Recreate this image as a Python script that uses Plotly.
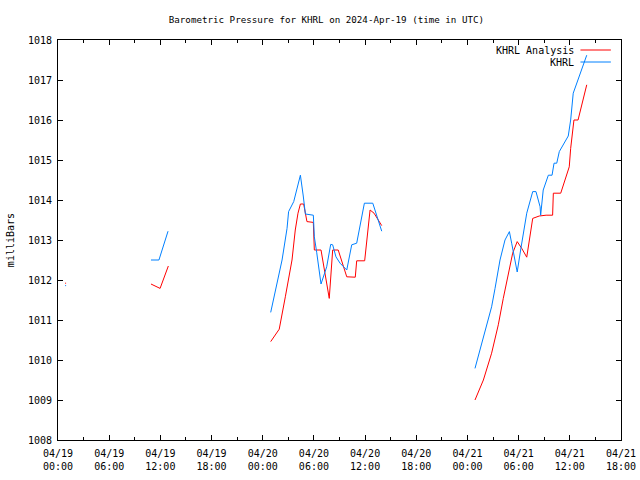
import plotly.graph_objects as go

# ---- data ----
series_names = ["KHRL Analysis", "KHRL"]
series_colors = ["#ff0000", "#0080ff"]

analysis_segments = [
    [("2024-04-19 00:50", 1011.92), ("2024-04-19 00:57", 1011.92)],
    [("2024-04-19 10:54", 1011.90), ("2024-04-19 11:22", 1011.85), ("2024-04-19 11:58", 1011.79),
     ("2024-04-19 12:56", 1012.35)],
    [("2024-04-20 00:56", 1010.46), ("2024-04-20 01:56", 1010.77), ("2024-04-20 02:39", 1011.58),
     ("2024-04-20 03:26", 1012.50), ("2024-04-20 03:49", 1013.25), ("2024-04-20 04:08", 1013.67),
     ("2024-04-20 04:25", 1013.90), ("2024-04-20 04:48", 1013.90), ("2024-04-20 05:11", 1013.46),
     ("2024-04-20 05:56", 1013.44), ("2024-04-20 06:03", 1012.75), ("2024-04-20 06:50", 1012.75),
     ("2024-04-20 07:48", 1011.54), ("2024-04-20 08:12", 1012.75), ("2024-04-20 08:51", 1012.75),
     ("2024-04-20 09:51", 1012.08), ("2024-04-20 10:51", 1012.07), ("2024-04-20 11:01", 1012.48),
     ("2024-04-20 11:57", 1012.48), ("2024-04-20 12:35", 1013.75), ("2024-04-20 13:03", 1013.67),
     ("2024-04-20 13:57", 1013.36)],
    [("2024-04-21 00:53", 1009.00), ("2024-04-21 01:52", 1009.50), ("2024-04-21 02:50", 1010.17),
     ("2024-04-21 03:37", 1010.88), ("2024-04-21 04:12", 1011.54), ("2024-04-21 04:47", 1012.17),
     ("2024-04-21 05:18", 1012.67), ("2024-04-21 05:50", 1012.96), ("2024-04-21 06:05", 1012.88),
     ("2024-04-21 06:22", 1012.79), ("2024-04-21 06:57", 1012.57), ("2024-04-21 07:39", 1013.54),
     ("2024-04-21 08:25", 1013.60), ("2024-04-21 09:13", 1013.62), ("2024-04-21 09:59", 1013.62),
     ("2024-04-21 10:04", 1014.17), ("2024-04-21 10:56", 1014.17), ("2024-04-21 11:56", 1014.83),
     ("2024-04-21 12:06", 1015.29), ("2024-04-21 12:29", 1016.00), ("2024-04-21 12:58", 1016.00),
     ("2024-04-21 13:59", 1016.88)],
]

khrl_segments = [
    [("2024-04-19 00:50", 1011.86), ("2024-04-19 00:57", 1011.86)],
    [("2024-04-19 10:54", 1012.50), ("2024-04-19 11:50", 1012.50), ("2024-04-19 12:54", 1013.22)],
    [("2024-04-20 00:56", 1011.19), ("2024-04-20 01:47", 1012.00), ("2024-04-20 02:16", 1012.50),
     ("2024-04-20 02:51", 1013.29), ("2024-04-20 03:02", 1013.71), ("2024-04-20 03:38", 1013.96),
     ("2024-04-20 04:25", 1014.62), ("2024-04-20 04:45", 1014.10), ("2024-04-20 05:00", 1013.65),
     ("2024-04-20 05:56", 1013.62), ("2024-04-20 06:03", 1013.08), ("2024-04-20 06:20", 1012.68),
     ("2024-04-20 06:50", 1011.90), ("2024-04-20 07:30", 1012.33), ("2024-04-20 07:58", 1012.89),
     ("2024-04-20 08:12", 1012.88), ("2024-04-20 08:35", 1012.58), ("2024-04-20 09:04", 1012.42),
     ("2024-04-20 09:51", 1012.25), ("2024-04-20 10:26", 1012.88), ("2024-04-20 11:01", 1012.92),
     ("2024-04-20 11:55", 1013.92), ("2024-04-20 12:54", 1013.92), ("2024-04-20 13:57", 1013.22)],
    [("2024-04-21 00:53", 1009.79), ("2024-04-21 01:52", 1010.58), ("2024-04-21 02:50", 1011.33),
     ("2024-04-21 03:14", 1011.79), ("2024-04-21 03:49", 1012.50), ("2024-04-21 04:24", 1013.00),
     ("2024-04-21 04:55", 1013.21), ("2024-04-21 05:11", 1012.92), ("2024-04-21 05:34", 1012.50),
     ("2024-04-21 05:50", 1012.20), ("2024-04-21 06:14", 1012.75), ("2024-04-21 06:57", 1013.67),
     ("2024-04-21 07:39", 1014.21), ("2024-04-21 08:02", 1014.21), ("2024-04-21 08:31", 1013.83),
     ("2024-04-21 08:35", 1013.62), ("2024-04-21 08:53", 1014.25), ("2024-04-21 09:29", 1014.62),
     ("2024-04-21 09:55", 1014.62), ("2024-04-21 10:09", 1014.92), ("2024-04-21 10:28", 1014.92),
     ("2024-04-21 10:46", 1015.21), ("2024-04-21 11:49", 1015.60), ("2024-04-21 12:06", 1016.00),
     ("2024-04-21 12:24", 1016.67), ("2024-04-21 13:59", 1017.62)],
]

x_range = ["2024-04-19 00:00", "2024-04-21 18:00"]
y_range = [1008, 1018]
title_text = "Barometric Pressure for KHRL on 2024-Apr-19 (time in UTC)"
y_title = "milliBars"


def flatten(segments):
    xs, ys = [], []
    for seg in segments:
        for t, v in seg:
            xs.append(t)
            ys.append(v)
        xs.append(None)
        ys.append(None)
    return xs, ys


FONT = "DejaVu Sans Mono"
fig = go.Figure()
for segs, name, color in zip([analysis_segments, khrl_segments], series_names, series_colors):
    xs, ys = flatten(segs)
    fig.add_trace(go.Scatter(x=xs, y=ys, mode="lines", name=name,
                             line=dict(color=color, width=1), connectgaps=False,
                             showlegend=False))

# custom gnuplot-style legend (text on left, sample on right)
for i, (name, color) in enumerate(zip(series_names, series_colors)):
    ypos = 0.975 - i * 0.03
    fig.add_annotation(xref="paper", yref="paper", x=0.920, y=ypos, text=name,
                       showarrow=False, xanchor="right", yanchor="middle",
                       font=dict(family=FONT, size=10, color="black"))
    fig.add_shape(type="line", xref="paper", yref="paper", x0=0.928, x1=0.982,
                  y0=ypos, y1=ypos, line=dict(color=color, width=1))

fig.add_annotation(xref="paper", yref="paper", x=-0.085, y=0.5, text=y_title,
                   textangle=-90, showarrow=False, xanchor="center", yanchor="middle",
                   font=dict(family=FONT, size=10, color="black"))

fig.update_layout(
    width=640, height=480,
    margin=dict(l=58, r=19, t=40, b=40, autoexpand=False),
    paper_bgcolor="white", plot_bgcolor="white",
    title=dict(text=title_text, x=0.51, xref="container", y=1 - 20 / 480,
               yref="container", xanchor="center", yanchor="middle",
               font=dict(family=FONT, size=9.2, color="black")),
    font=dict(family=FONT, size=10, color="black"),
)
fig.update_xaxes(type="date", range=x_range, dtick=6 * 3600 * 1000,
                 tick0="2024-04-19 00:00", tickformat="%m/%d<br>%H:%M",
                 ticks="inside", ticklen=5, tickcolor="black",
                 minor=dict(dtick=3 * 3600 * 1000, ticks="inside", ticklen=3,
                            tickcolor="black", showgrid=False),
                 showline=True, linecolor="black", linewidth=1, mirror="allticks",
                 showgrid=False, zeroline=False, automargin=False,
                 ticklabelstandoff=4,
                 tickfont=dict(family=FONT, size=10))
fig.update_yaxes(range=y_range, dtick=1, ticks="inside", ticklen=5, tickcolor="black",
                 showline=True, linecolor="black", linewidth=1, mirror="allticks",
                 showgrid=False, zeroline=False, automargin=False,
                 ticklabelstandoff=3,
                 tickfont=dict(family=FONT, size=10))

fig.write_html("out.html", config={"displayModeBar": False},
               post_script="document.body.style.margin='0';document.body.style.overflow='hidden';")
